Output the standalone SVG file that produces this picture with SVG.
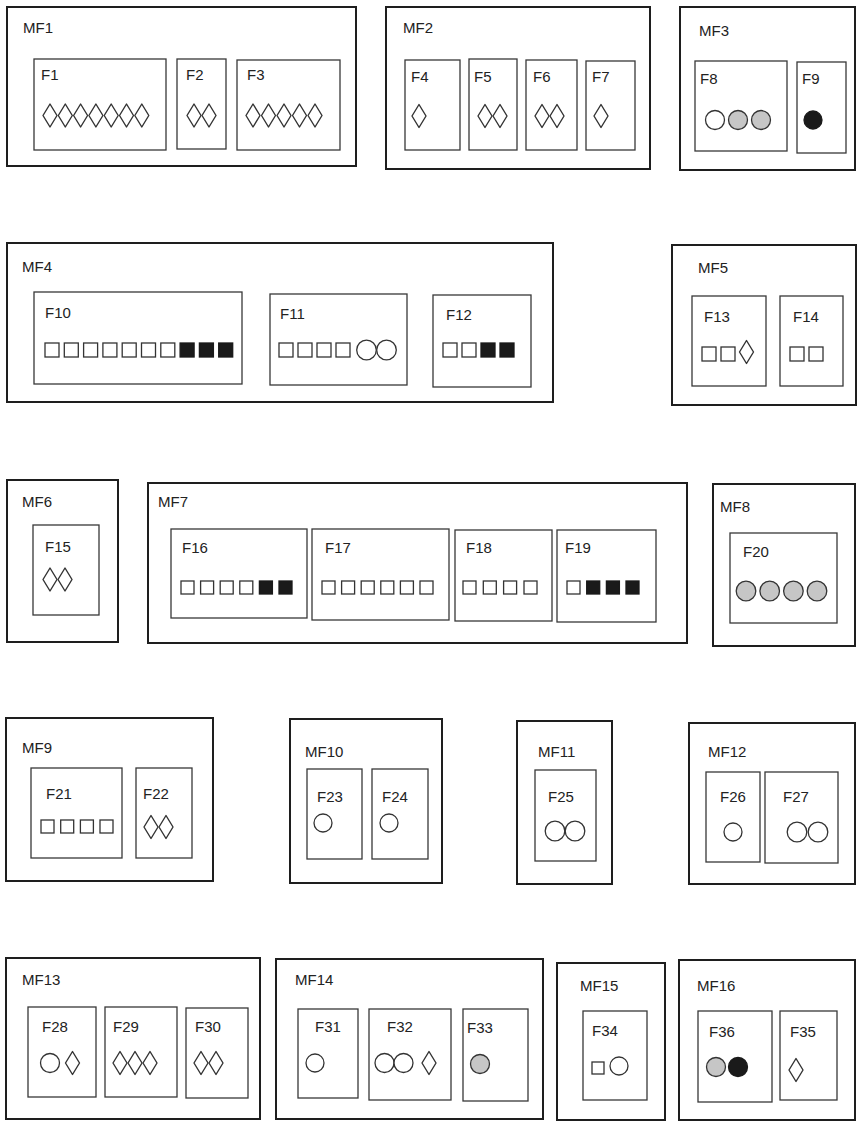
<svg xmlns="http://www.w3.org/2000/svg" xmlns:xlink="http://www.w3.org/1999/xlink" width="857" height="1122" viewBox="0 0 857 1122">
<style>
.mf{fill:none;stroke:#1e1e1e;stroke-width:2}
.f{fill:none;stroke:#383838;stroke-width:1.3}
.t{font-family:"Liberation Sans",Arial,sans-serif;font-size:15px;fill:#222}
.w{fill:#fff;stroke:#333;stroke-width:1.3}
.g{fill:#c6c6c6;stroke:#333;stroke-width:1.3}
.k{fill:#1a1a1a;stroke:#1a1a1a;stroke-width:1.3}
</style>
<defs>
<path id="dm" d="M0,-11.5 L7,0 L0,11.5 L-7,0 Z" fill="#fff" stroke="#333" stroke-width="1.4" stroke-linejoin="round"/>
<rect id="sq" x="0" y="0" width="14" height="14" fill="#fff" stroke="#333" stroke-width="1.3"/>
<rect id="sqk" x="0" y="0" width="14" height="14" fill="#1a1a1a" stroke="#1a1a1a" stroke-width="1.3"/>
<rect id="sq3" x="0" y="0" width="13" height="13" fill="#fff" stroke="#333" stroke-width="1.3"/>
<rect id="sq3k" x="0" y="0" width="13" height="13" fill="#1a1a1a" stroke="#1a1a1a" stroke-width="1.3"/>
</defs>
<rect width="857" height="1122" fill="#fff"/>
<g id="connectors"/>

<!-- Row 1 -->
<g id="MF1"><rect class="mf" x="7" y="7" width="349" height="159"/><text class="t" x="23" y="33">MF1</text></g>
<g id="F1"><rect class="f" x="34" y="59" width="132" height="91"/><text class="t" x="41" y="80">F1</text>
<use href="#dm" x="50" y="115.5"/><use href="#dm" x="65.3" y="115.5"/><use href="#dm" x="80.6" y="115.5"/><use href="#dm" x="95.9" y="115.5"/><use href="#dm" x="111.2" y="115.5"/><use href="#dm" x="126.5" y="115.5"/><use href="#dm" x="141.8" y="115.5"/></g>
<g id="F2"><rect class="f" x="177" y="59" width="49" height="90"/><text class="t" x="186" y="80">F2</text>
<use href="#dm" x="194" y="115.5"/><use href="#dm" x="209" y="115.5"/></g>
<g id="F3"><rect class="f" x="237" y="60" width="103" height="90"/><text class="t" x="247" y="80">F3</text>
<use href="#dm" x="253" y="115.5"/><use href="#dm" x="268.5" y="115.5"/><use href="#dm" x="284" y="115.5"/><use href="#dm" x="299.5" y="115.5"/><use href="#dm" x="315" y="115.5"/></g>

<g id="MF2"><rect class="mf" x="386" y="7" width="264" height="162"/><text class="t" x="403" y="33">MF2</text></g>
<g id="F4"><rect class="f" x="405" y="60" width="55" height="90"/><text class="t" x="411" y="82">F4</text><use href="#dm" x="419" y="116"/></g>
<g id="F5"><rect class="f" x="469" y="59" width="48" height="91"/><text class="t" x="474" y="82">F5</text><use href="#dm" x="485" y="116"/><use href="#dm" x="500" y="116"/></g>
<g id="F6"><rect class="f" x="526" y="60" width="51" height="90"/><text class="t" x="533" y="82">F6</text><use href="#dm" x="542" y="116"/><use href="#dm" x="557" y="116"/></g>
<g id="F7"><rect class="f" x="586" y="61" width="49" height="89"/><text class="t" x="592" y="82">F7</text><use href="#dm" x="601" y="116"/></g>

<g id="MF3"><rect class="mf" x="680" y="7" width="175" height="163"/><text class="t" x="699" y="36">MF3</text></g>
<g id="F8"><rect class="f" x="695" y="61" width="92" height="90"/><text class="t" x="700" y="84">F8</text>
<circle class="w" cx="715" cy="120" r="9.5"/><circle class="g" cx="738" cy="120" r="9.5"/><circle class="g" cx="761" cy="120" r="9.5"/></g>
<g id="F9"><rect class="f" x="797" y="62" width="49" height="91"/><text class="t" x="802" y="84">F9</text><circle class="k" cx="813" cy="120" r="9"/></g>

<!-- Row 2 -->
<g id="MF4"><rect class="mf" x="7" y="243" width="546" height="159"/><text class="t" x="22" y="272">MF4</text></g>
<g id="F10"><rect class="f" x="34" y="292" width="208" height="92"/><text class="t" x="45" y="318">F10</text>
<use href="#sq" x="45" y="343"/><use href="#sq" x="64.3" y="343"/><use href="#sq" x="83.6" y="343"/><use href="#sq" x="102.9" y="343"/><use href="#sq" x="122.2" y="343"/><use href="#sq" x="141.5" y="343"/><use href="#sq" x="160.8" y="343"/><use href="#sqk" x="180.1" y="343"/><use href="#sqk" x="199.4" y="343"/><use href="#sqk" x="218.7" y="343"/></g>
<g id="F11"><rect class="f" x="270" y="294" width="137" height="91"/><text class="t" x="280" y="319">F11</text>
<use href="#sq" x="279" y="343"/><use href="#sq" x="298" y="343"/><use href="#sq" x="317" y="343"/><use href="#sq" x="336" y="343"/><circle class="w" cx="366.5" cy="350" r="9.8"/><circle class="w" cx="386.5" cy="350" r="9.8"/></g>
<g id="F12"><rect class="f" x="433" y="295" width="98" height="92"/><text class="t" x="446" y="320">F12</text>
<use href="#sq" x="443" y="343"/><use href="#sq" x="462" y="343"/><use href="#sqk" x="481" y="343"/><use href="#sqk" x="500" y="343"/></g>

<g id="MF5"><rect class="mf" x="672" y="245" width="184" height="160"/><text class="t" x="698" y="273">MF5</text></g>
<g id="F13"><rect class="f" x="692" y="296" width="74" height="90"/><text class="t" x="704" y="322">F13</text>
<use href="#sq" x="702" y="347"/><use href="#sq" x="721" y="347"/><use href="#dm" x="746.5" y="352"/></g>
<g id="F14"><rect class="f" x="780" y="296" width="63" height="90"/><text class="t" x="793" y="322">F14</text>
<use href="#sq" x="790" y="347"/><use href="#sq" x="809" y="347"/></g>

<!-- Row 3 -->
<g id="MF6"><rect class="mf" x="7" y="480" width="111" height="162"/><text class="t" x="22" y="507">MF6</text></g>
<g id="F15"><rect class="f" x="33" y="525" width="66" height="90"/><text class="t" x="45" y="552">F15</text>
<use href="#dm" x="50" y="579.5"/><use href="#dm" x="65" y="579.5"/></g>

<g id="MF7"><rect class="mf" x="148" y="483" width="539" height="160"/><text class="t" x="158" y="507">MF7</text></g>
<g id="F16"><rect class="f" x="171" y="529" width="136" height="89"/><text class="t" x="182" y="553">F16</text>
<use href="#sq3" x="181" y="581"/><use href="#sq3" x="200.6" y="581"/><use href="#sq3" x="220.2" y="581"/><use href="#sq3" x="239.8" y="581"/><use href="#sq3k" x="259.4" y="581"/><use href="#sq3k" x="279" y="581"/></g>
<g id="F17"><rect class="f" x="312" y="529" width="137" height="91"/><text class="t" x="325" y="553">F17</text>
<use href="#sq3" x="322" y="581"/><use href="#sq3" x="341.6" y="581"/><use href="#sq3" x="361.2" y="581"/><use href="#sq3" x="380.8" y="581"/><use href="#sq3" x="400.4" y="581"/><use href="#sq3" x="420" y="581"/></g>
<g id="F18"><rect class="f" x="455" y="530" width="97" height="91"/><text class="t" x="466" y="553">F18</text>
<use href="#sq3" x="463" y="581"/><use href="#sq3" x="483.3" y="581"/><use href="#sq3" x="503.6" y="581"/><use href="#sq3" x="524" y="581"/></g>
<g id="F19"><rect class="f" x="557" y="530" width="99" height="92"/><text class="t" x="565" y="553">F19</text>
<use href="#sq3" x="567" y="581"/><use href="#sq3k" x="586.7" y="581"/><use href="#sq3k" x="606.4" y="581"/><use href="#sq3k" x="626" y="581"/></g>

<g id="MF8"><rect class="mf" x="713" y="484" width="142" height="162"/><text class="t" x="720" y="512">MF8</text></g>
<g id="F20"><rect class="f" x="730" y="533" width="107" height="90"/><text class="t" x="743" y="557">F20</text>
<circle class="g" cx="746" cy="591" r="9.8"/><circle class="g" cx="769.7" cy="591" r="9.8"/><circle class="g" cx="793.4" cy="591" r="9.8"/><circle class="g" cx="817" cy="591" r="9.8"/></g>

<!-- Row 4 -->
<g id="MF9"><rect class="mf" x="6" y="718" width="207" height="163"/><text class="t" x="22" y="753">MF9</text></g>
<g id="F21"><rect class="f" x="31" y="768" width="91" height="90"/><text class="t" x="46" y="799">F21</text>
<use href="#sq3" x="41" y="820"/><use href="#sq3" x="60.7" y="820"/><use href="#sq3" x="80.4" y="820"/><use href="#sq3" x="100" y="820"/></g>
<g id="F22"><rect class="f" x="136" y="768" width="56" height="90"/><text class="t" x="143" y="799">F22</text>
<use href="#dm" x="151" y="827"/><use href="#dm" x="166" y="827"/></g>

<g id="MF10"><rect class="mf" x="290" y="719" width="152" height="164"/><text class="t" x="305" y="757">MF10</text></g>
<g id="F23"><rect class="f" x="307" y="769" width="55" height="90"/><text class="t" x="317" y="802">F23</text><circle class="w" cx="323" cy="823" r="9"/></g>
<g id="F24"><rect class="f" x="372" y="769" width="56" height="90"/><text class="t" x="382" y="802">F24</text><circle class="w" cx="389" cy="823" r="9"/></g>

<g id="MF11"><rect class="mf" x="517" y="721" width="95" height="163"/><text class="t" x="538" y="757">MF11</text></g>
<g id="F25"><rect class="f" x="535" y="770" width="61" height="91"/><text class="t" x="548" y="802">F25</text>
<circle class="w" cx="555" cy="831" r="9.8"/><circle class="w" cx="575" cy="831" r="9.8"/></g>

<g id="MF12"><rect class="mf" x="689" y="723" width="166" height="161"/><text class="t" x="708" y="757">MF12</text></g>
<g id="F26"><rect class="f" x="706" y="772" width="54" height="90"/><text class="t" x="720" y="802">F26</text><circle class="w" cx="733" cy="832" r="9"/></g>
<g id="F27"><rect class="f" x="765" y="772" width="73" height="91"/><text class="t" x="783" y="802">F27</text>
<circle class="w" cx="797" cy="832" r="9.8"/><circle class="w" cx="818" cy="832" r="9.8"/></g>

<!-- Row 5 -->
<g id="MF13"><rect class="mf" x="6" y="958" width="254" height="161"/><text class="t" x="22" y="985">MF13</text></g>
<g id="F28"><rect class="f" x="28" y="1007" width="68" height="90"/><text class="t" x="42" y="1032">F28</text>
<circle class="w" cx="50" cy="1063" r="9.5"/><use href="#dm" x="72.5" y="1063"/></g>
<g id="F29"><rect class="f" x="105" y="1007" width="72" height="90"/><text class="t" x="113" y="1032">F29</text>
<use href="#dm" x="120" y="1063"/><use href="#dm" x="135" y="1063"/><use href="#dm" x="150" y="1063"/></g>
<g id="F30"><rect class="f" x="186" y="1008" width="62" height="90"/><text class="t" x="195" y="1032">F30</text>
<use href="#dm" x="201" y="1063"/><use href="#dm" x="216" y="1063"/></g>

<g id="MF14"><rect class="mf" x="276" y="959" width="267" height="160"/><text class="t" x="295" y="985">MF14</text></g>
<g id="F31"><rect class="f" x="298" y="1009" width="60" height="89"/><text class="t" x="315" y="1032">F31</text><circle class="w" cx="315" cy="1063" r="9"/></g>
<g id="F32"><rect class="f" x="369" y="1009" width="82" height="91"/><text class="t" x="387" y="1032">F32</text>
<circle class="w" cx="384.5" cy="1063" r="9.5"/><circle class="w" cx="403.5" cy="1063" r="9.5"/><use href="#dm" x="429" y="1063"/></g>
<g id="F33"><rect class="f" x="463" y="1009" width="65" height="92"/><text class="t" x="467" y="1033">F33</text><circle class="g" cx="480" cy="1064" r="9.5"/></g>

<g id="MF15"><rect class="mf" x="557" y="963" width="108" height="157"/><text class="t" x="580" y="991">MF15</text></g>
<g id="F34"><rect class="f" x="583" y="1011" width="64" height="89"/><text class="t" x="592" y="1036">F34</text>
<rect x="592" y="1062" width="12" height="12" fill="#fff" stroke="#333" stroke-width="1.3"/><circle class="w" cx="619" cy="1066" r="9"/></g>

<g id="MF16"><rect class="mf" x="679" y="960" width="176" height="160"/><text class="t" x="697" y="991">MF16</text></g>
<g id="F36"><rect class="f" x="698" y="1011" width="74" height="91"/><text class="t" x="709" y="1037">F36</text>
<circle class="g" cx="716" cy="1067" r="9.5"/><circle class="k" cx="738" cy="1067" r="9.5"/></g>
<g id="F35"><rect class="f" x="780" y="1011" width="57" height="89"/><text class="t" x="790" y="1037">F35</text><use href="#dm" x="796" y="1070"/></g>
</svg>
